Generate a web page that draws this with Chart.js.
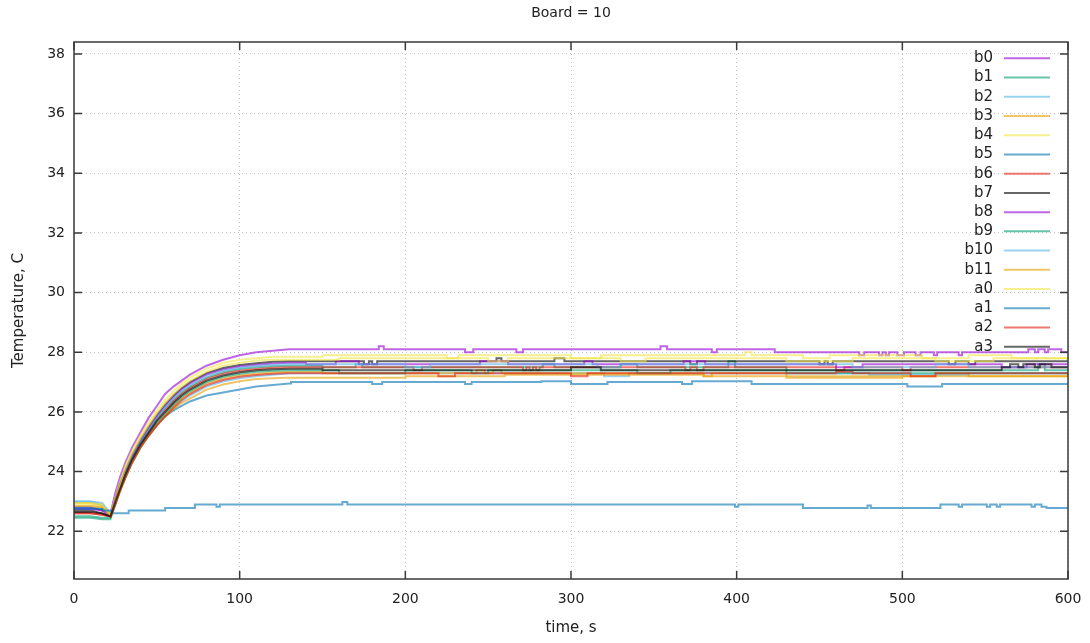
<!DOCTYPE html>
<html>
<head>
<meta charset="utf-8">
<title>Board = 10</title>
<script src="https://cdn.jsdelivr.net/npm/chart.js@4/dist/chart.umd.min.js"></script>
<style>
  html, body { margin: 0; padding: 0; background: #fff; }
  #wrap { width: 1090px; height: 643px; }
</style>
</head>
<body>
<div id="wrap"><canvas id="boardChart"></canvas></div>
<script>
// Sensor names in plotting order
const sensorNames = ['b0', 'b1', 'b2', 'b3', 'b4', 'b5', 'b6', 'b7', 'b8', 'b9', 'b10', 'b11', 'a0', 'a1', 'a2', 'a3'];

// Axis ticks
const xTicks = [0, 100, 200, 300, 400, 500, 600];
const yTicks = [22, 24, 26, 28, 30, 32, 34, 36, 38];

// Warm-up phase: sample times (s) shared by the heated sensors
const riseTime = [0, 10, 17, 22, 25, 28, 31, 35, 40, 45, 50, 55, 60, 65, 70, 80, 90, 100, 110, 120, 130];

const riseB0  = [22.8, 22.8, 22.7, 22.6, 23.3, 23.85, 24.3, 24.8, 25.3, 25.8, 26.2, 26.6, 26.85, 27.05, 27.25, 27.55, 27.75, 27.9, 28.0, 28.05, 28.1];
const riseB1  = [22.5, 22.5, 22.45, 22.45, 23.0, 23.5, 23.95, 24.45, 24.95, 25.4, 25.8, 26.12, 26.4, 26.65, 26.85, 27.15, 27.33, 27.44, 27.5, 27.53, 27.55];
const riseB2  = [23.0, 23.0, 22.95, 22.6, 22.95, 23.4, 23.8, 24.3, 24.8, 25.2, 25.55, 25.85, 26.1, 26.35, 26.55, 26.85, 27.02, 27.13, 27.2, 27.25, 27.3];
const riseB3  = [22.95, 22.95, 22.85, 22.55, 22.95, 23.4, 23.85, 24.35, 24.85, 25.25, 25.6, 25.9, 26.2, 26.45, 26.65, 26.95, 27.12, 27.22, 27.28, 27.32, 27.35];
const riseB4  = [22.9, 22.9, 22.8, 22.5, 23.15, 23.7, 24.2, 24.7, 25.2, 25.65, 26.05, 26.4, 26.7, 26.95, 27.15, 27.45, 27.65, 27.75, 27.8, 27.85, 27.85];
const riseB5  = [22.8, 22.8, 22.75, 22.6, 22.95, 23.4, 23.8, 24.3, 24.8, 25.2, 25.55, 25.85, 26.05, 26.2, 26.35, 26.55, 26.65, 26.75, 26.85, 26.9, 26.95];
const riseB6  = [22.6, 22.6, 22.55, 22.5, 22.95, 23.45, 23.9, 24.4, 24.9, 25.35, 25.75, 26.05, 26.35, 26.6, 26.8, 27.1, 27.28, 27.38, 27.44, 27.48, 27.5];
const riseB7  = [22.7, 22.7, 22.6, 22.5, 23.1, 23.6, 24.05, 24.55, 25.05, 25.5, 25.9, 26.25, 26.55, 26.8, 27.0, 27.3, 27.47, 27.57, 27.63, 27.68, 27.7];
const riseB8  = [22.75, 22.75, 22.7, 22.5, 23.05, 23.55, 24.0, 24.5, 25.0, 25.45, 25.85, 26.2, 26.5, 26.75, 26.95, 27.25, 27.42, 27.52, 27.58, 27.62, 27.65];
const riseB9  = [22.45, 22.45, 22.4, 22.4, 22.9, 23.4, 23.85, 24.35, 24.85, 25.25, 25.65, 25.95, 26.25, 26.5, 26.7, 27.0, 27.18, 27.28, 27.35, 27.38, 27.4];
const riseB10 = [23.0, 23.0, 22.9, 22.6, 23.0, 23.5, 23.95, 24.45, 24.95, 25.4, 25.8, 26.15, 26.45, 26.7, 26.9, 27.2, 27.38, 27.48, 27.54, 27.58, 27.6];
const riseB11 = [22.85, 22.85, 22.8, 22.5, 22.95, 23.35, 23.8, 24.3, 24.8, 25.2, 25.55, 25.85, 26.1, 26.3, 26.45, 26.75, 26.92, 27.03, 27.1, 27.13, 27.15];
const riseA0  = [22.95, 22.95, 22.9, 22.55, 23.1, 23.6, 24.1, 24.6, 25.1, 25.55, 25.95, 26.3, 26.6, 26.85, 27.05, 27.35, 27.55, 27.65, 27.72, 27.75, 27.75];
const riseA1  = []; // a1 never warms up, logged only as level changes
const riseA2  = [22.6, 22.6, 22.55, 22.5, 22.9, 23.4, 23.8, 24.3, 24.8, 25.2, 25.55, 25.85, 26.15, 26.4, 26.6, 26.9, 27.07, 27.18, 27.24, 27.28, 27.3];
const riseA3  = [22.65, 22.65, 22.6, 22.5, 23.0, 23.45, 23.9, 24.4, 24.9, 25.3, 25.7, 26.0, 26.3, 26.55, 26.75, 27.05, 27.22, 27.33, 27.4, 27.43, 27.45];

// Steady phase: [time s, new reading C] at each level change
const stepsB0  = [[184, 28.2], [187, 28.1], [236, 28.0], [241, 28.1], [267, 28.0], [271, 28.1], [354, 28.2], [358, 28.1], [385, 28.0], [388, 28.1], [423, 28.0], [474, 27.9], [477, 28.0], [486, 27.9], [488, 28.0], [490, 27.9], [492, 28.0], [497, 27.9], [501, 28.0], [508, 27.9], [511, 28.0], [519, 27.9], [521, 28.0], [534, 27.9], [536, 28.0], [576, 28.1], [580, 28.0], [582, 28.1], [586, 28.0], [588, 28.1], [596, 28.0]];
const stepsB1  = [[150, 27.5], [170, 27.6], [174, 27.5], [283, 27.6], [290, 27.5], [330, 27.6], [340, 27.5], [395, 27.7], [399, 27.5], [430, 27.4], [582, 27.6], [586, 27.4]];
const stepsB2  = [[320, 27.2], [335, 27.3], [480, 27.25], [540, 27.3]];
const stepsB3  = [[150, 27.3], [243, 27.4], [248, 27.3], [253, 27.4], [258, 27.3], [380, 27.2], [385, 27.3], [430, 27.2], [520, 27.3], [540, 27.2]];
const stepsB4  = [[150, 27.9], [225, 27.8], [232, 27.9], [300, 27.8], [318, 27.9], [405, 28.0], [409, 27.9], [440, 27.8], [456, 27.9], [512, 27.8], [540, 27.9], [566, 27.8]];
const stepsB5  = [[131, 27.0], [180, 26.94], [186, 27.0], [236, 26.94], [240, 27.0], [282, 27.03], [300, 26.94], [322, 27.0], [367, 26.94], [373, 27.03], [409, 26.94], [503, 26.85], [524, 26.94]];
const stepsB6  = [[205, 27.4], [210, 27.5], [271, 27.4], [273, 27.5], [275, 27.4], [277, 27.5], [279, 27.4], [281, 27.5], [369, 27.4], [372, 27.5], [376, 27.4], [380, 27.5], [460, 27.4], [465, 27.5], [500, 27.4], [505, 27.5]];
const stepsB7  = [[175, 27.6], [178, 27.7], [180, 27.6], [183, 27.7], [255, 27.8], [258, 27.7], [290, 27.8], [296, 27.7], [372, 27.6], [376, 27.7], [450, 27.6], [453, 27.7], [455, 27.6], [458, 27.7], [528, 27.6], [532, 27.7], [540, 27.6], [544, 27.7]];
const stepsB8  = [[140, 27.6], [158, 27.7], [172, 27.6], [245, 27.7], [262, 27.6], [308, 27.7], [313, 27.6], [368, 27.7], [381, 27.6], [460, 27.5], [476, 27.6], [560, 27.5], [575, 27.6]];
const stepsB9  = [[160, 27.3], [200, 27.4], [240, 27.3], [250, 27.4], [340, 27.3], [360, 27.4], [430, 27.3]];
const stepsB10 = [[200, 27.5], [215, 27.6], [316, 27.5], [330, 27.6], [470, 27.5], [520, 27.6], [540, 27.5]];
const stepsB11 = [[200, 27.2], [260, 27.25], [380, 27.2], [430, 27.15], [500, 27.2]];
const stepsA0  = [[160, 27.8], [250, 27.7], [262, 27.8], [330, 27.7], [345, 27.8], [430, 27.7], [470, 27.8], [520, 27.7], [555, 27.8]];
const stepsA1  = [[0, 22.75], [17, 22.7], [23, 22.6], [33, 22.7], [55, 22.78], [73, 22.9], [86, 22.82], [88, 22.9], [162, 22.98], [165, 22.9], [399, 22.82], [401, 22.9], [440, 22.78], [479, 22.86], [481, 22.78], [523, 22.9], [534, 22.82], [536, 22.9], [551, 22.82], [553, 22.9], [557, 22.82], [559, 22.9], [578, 22.82], [580, 22.9], [584, 22.82], [587, 22.78]];
const stepsA2  = [[220, 27.2], [230, 27.3], [300, 27.2], [310, 27.3], [460, 27.35], [470, 27.3], [505, 27.2], [520, 27.3]];
const stepsA3  = [[150, 27.4], [300, 27.5], [318, 27.4], [560, 27.5], [565, 27.6], [570, 27.5], [573, 27.6], [580, 27.5], [583, 27.6], [590, 27.5]];

const riseSeries = [riseB0, riseB1, riseB2, riseB3, riseB4, riseB5, riseB6, riseB7, riseB8, riseB9, riseB10, riseB11, riseA0, riseA1, riseA2, riseA3];
const stepSeries = [stepsB0, stepsB1, stepsB2, stepsB3, stepsB4, stepsB5, stepsB6, stepsB7, stepsB8, stepsB9, stepsB10, stepsB11, stepsA0, stepsA1, stepsA2, stepsA3];

// gnuplot default line colours, drawn semi-transparent
const palette = [
  'rgba(148, 0, 211, 0.6)',
  'rgba(0, 158, 115, 0.6)',
  'rgba(86, 180, 233, 0.6)',
  'rgba(230, 159, 0, 0.6)',
  'rgba(240, 228, 66, 0.6)',
  'rgba(0, 114, 178, 0.6)',
  'rgba(229, 30, 16, 0.6)',
  'rgba(0, 0, 0, 0.6)'
];

const FAMILY = 'DejaVu Sans';
const TICK_FONT = { family: FAMILY, size: 14 };
const LABEL_FONT = { family: FAMILY, size: 15 };
const TEXT = '#222';
const T_END = 600;
const TITLE = 'Board = 10';

// Join the warm-up samples with the level changes that follow
function buildPoints(rise, steps) {
  const pts = rise.map((v, i) => ({ x: riseTime[i], y: v }));
  let last = pts.length ? pts[pts.length - 1].y : null;
  steps.forEach(([t, v]) => {
    if (last !== null) pts.push({ x: t, y: last });
    pts.push({ x: t, y: v });
    last = v;
  });
  pts.push({ x: T_END, y: last });
  return pts;
}

const datasets = sensorNames.map((name, i) => ({
  label: name,
  data: buildPoints(riseSeries[i], stepSeries[i]),
  borderColor: palette[i % palette.length],
  borderWidth: 2,
  pointRadius: 0,
  fill: false,
  tension: 0,
  order: sensorNames.length - i   // later sensors end up on top
}));

// Border with inward ticks, title over the plot, and a right-aligned key
const framePlugin = {
  id: 'frame',
  afterDatasetsDraw(chart) {
    const { ctx, chartArea: a, scales: { x, y } } = chart;
    ctx.save();
    ctx.strokeStyle = '#3a3a3a';
    ctx.lineWidth = 1.5;
    ctx.strokeRect(a.left, a.top, a.right - a.left, a.bottom - a.top);

    ctx.beginPath();
    x.ticks.forEach(t => {
      const px = x.getPixelForValue(t.value);
      ctx.moveTo(px, a.bottom); ctx.lineTo(px, a.bottom - 8);
      ctx.moveTo(px, a.top); ctx.lineTo(px, a.top + 8);
    });
    y.ticks.forEach(t => {
      const py = y.getPixelForValue(t.value);
      ctx.moveTo(a.left, py); ctx.lineTo(a.left + 8, py);
      ctx.moveTo(a.right, py); ctx.lineTo(a.right - 8, py);
    });
    ctx.stroke();

    // title, centred on the plot area
    ctx.fillStyle = TEXT;
    ctx.font = `${TICK_FONT.size}px "${FAMILY}"`;
    ctx.textAlign = 'center';
    ctx.textBaseline = 'middle';
    ctx.fillText(TITLE, (a.left + a.right) / 2, a.top - 29);

    // key
    const textX = a.right - 75;
    const lineX0 = a.right - 64;
    const lineX1 = a.right - 18;
    const rowH = 19.23;
    ctx.font = `${LABEL_FONT.size}px "${FAMILY}"`;
    ctx.textAlign = 'right';
    chart.data.datasets.forEach((ds, i) => {
      const ry = a.top + 16.3 + i * rowH;
      ctx.fillStyle = TEXT;
      ctx.fillText(ds.label, textX, ry);
      ctx.strokeStyle = ds.borderColor;
      ctx.lineWidth = 2;
      ctx.beginPath();
      ctx.moveTo(lineX0, ry);
      ctx.lineTo(lineX1, ry);
      ctx.stroke();
    });
    ctx.restore();
  }
};

new Chart('boardChart', {
  type: 'line',
  data: { datasets },
  options: {
    responsive: true,
    maintainAspectRatio: false,
    animation: false,
    devicePixelRatio: 1,
    parsing: false,
    normalized: true,
    layout: { padding: { left: 0, right: 22, top: 42, bottom: 0 } },
    plugins: {
      legend: { display: false },
      tooltip: { enabled: false },
      title: { display: false }
    },
    scales: {
      x: {
        type: 'linear',
        min: 0,
        max: T_END,
        afterBuildTicks: scale => { scale.ticks = xTicks.map(value => ({ value })); },
        afterFit: scale => {
          scale.height = 64;
          scale.paddingLeft = 0;
          scale.paddingRight = 0;
        },
        grid: { color: '#c4c4c4', lineWidth: 1, drawTicks: false },
        border: { display: false, dash: [1, 3] },
        ticks: { color: TEXT, font: TICK_FONT, padding: 12, maxRotation: 0 },
        title: { display: true, text: 'time, s', color: TEXT, font: LABEL_FONT, padding: { top: 6, bottom: 6 } }
      },
      y: {
        type: 'linear',
        min: 20.4,
        max: 38.4,
        afterBuildTicks: scale => { scale.ticks = yTicks.map(value => ({ value })); },
        afterFit: scale => { scale.width = 74; },
        grid: { color: '#c4c4c4', lineWidth: 1, drawTicks: false },
        border: { display: false, dash: [1, 3] },
        ticks: { color: TEXT, font: TICK_FONT, padding: 9 },
        title: { display: true, text: 'Temperature, C', color: TEXT, font: LABEL_FONT, padding: { top: 10, bottom: 10 } }
      }
    }
  },
  plugins: [framePlugin]
});
</script>
</body>
</html>
